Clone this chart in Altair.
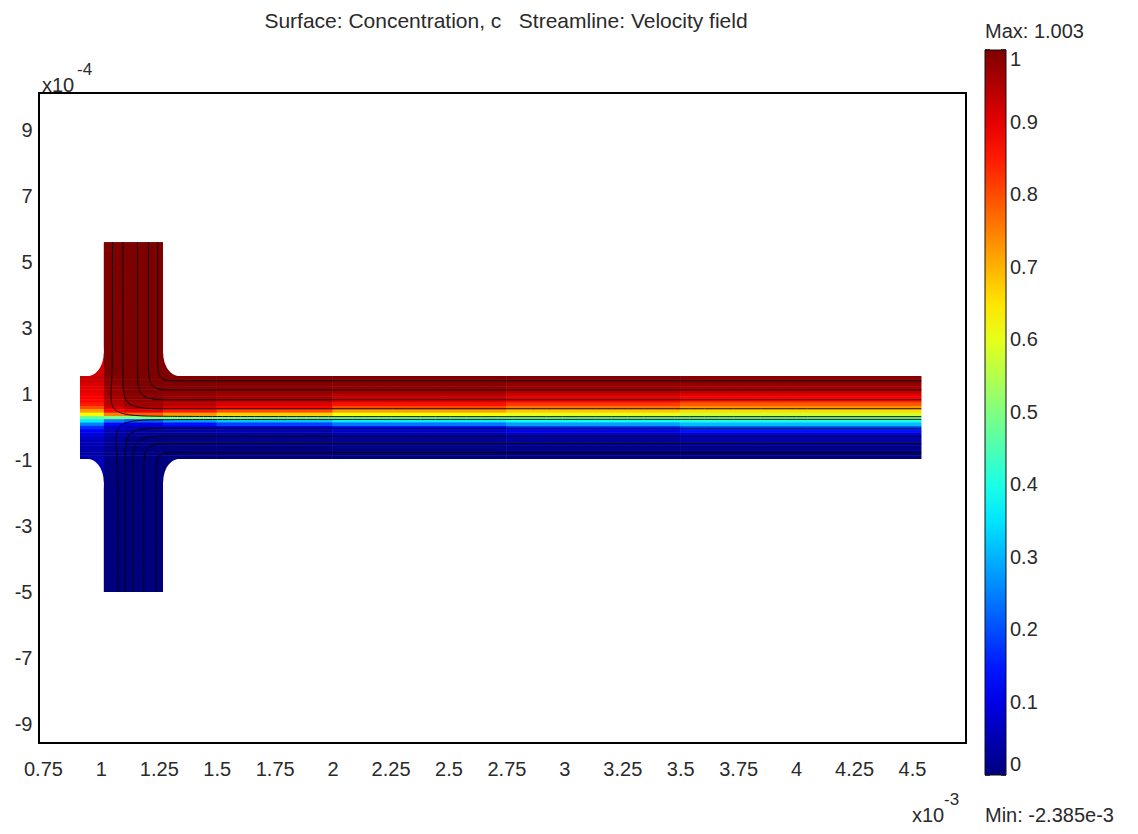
import altair as alt
import pandas as pd

# ---------------- text ----------------
title_text = "Surface: Concentration, c\u00a0\u00a0\u00a0Streamline: Velocity field"
max_text = "Max: 1.003"
min_text = "Min: -2.385e-3"
x_exp_base, x_exp_pow = "x10", "-3"
y_exp_base, y_exp_pow = "x10", "-4"

# ---------------- axes ----------------
x_ticks = [0.75, 1, 1.25, 1.5, 1.75, 2, 2.25, 2.5, 2.75, 3, 3.25, 3.5, 3.75, 4, 4.25, 4.5]
y_ticks = [9, 7, 5, 3, 1, -1, -3, -5, -7, -9]
cbar_ticks = [0, 0.1, 0.2, 0.3, 0.4, 0.5, 0.6, 0.7, 0.8, 0.9, 1]
x_domain = [0.733, 4.733]     # x in 1e-3 m
y_domain = [-9.56, 10.14]     # y in 1e-4 m

# ---------------- geometry (data units) ----------------
inlet_x = [1.013, 1.268]
top_inlet_y = [1.56, 5.62]
bottom_inlet_y = [-4.98, -0.95]
fillet_rx = 0.07
fillet_ry = 0.7

# channel cells: x segments and y strips (top -> bottom)
segment_edges = [0.91, 1.013, 1.1, 1.268, 1.5, 2.0, 2.75, 3.5, 4.54]
strip_edges = [1.56, 1.45, 1.35, 1.25, 1.15, 1.05, 0.95, 0.85, 0.75, 0.65, 0.55, 0.45,
               0.35, 0.25, 0.15, 0.05, -0.05, -0.15, -0.25, -0.35, -0.45, -0.55, -0.65,
               -0.75, -0.85, -0.95]

# concentration profiles across the channel, one per x segment (top -> bottom)
prof_stub = [.93, .92, .91, .90, .90, .89, .88, .87, .85, .80, .72, .62, .48, .36, .25, .17, .12, .09, .07, .06, .05, .05, .04, .04, .04]
prof_j1 = [.99, .99, .98, .98, .97, .97, .96, .95, .94, .92, .87, .75, .50, .25, .13, .08, .05, .04, .03, .02, .02, .01, .01, .01, .01]
prof_j2 = [1, 1, 1, 1, 1, .99, .99, .98, .97, .95, .90, .78, .50, .22, .10, .05, .03, .02, .01, 0, 0, 0, 0, 0, 0]
prof_c1 = [1, 1, 1, .99, .99, .98, .97, .96, .94, .91, .85, .72, .50, .28, .14, .07, .04, .02, .01, .01, 0, 0, 0, 0, 0]
prof_c2 = [1, 1, .99, .99, .98, .97, .96, .94, .91, .87, .80, .67, .50, .32, .19, .10, .05, .03, .02, .01, .01, 0, 0, 0, 0]
prof_c3 = [1, .99, .99, .98, .97, .95, .93, .90, .86, .80, .72, .62, .50, .36, .24, .14, .08, .05, .03, .02, .01, .01, 0, 0, 0]
prof_c4 = [1, .99, .98, .97, .95, .93, .90, .87, .82, .76, .68, .60, .50, .39, .28, .18, .11, .07, .04, .03, .02, .01, .01, 0, 0]
prof_c5 = [.99, .99, .98, .96, .94, .91, .88, .84, .79, .73, .66, .58, .50, .40, .31, .22, .14, .09, .06, .04, .02, .01, .01, 0, 0]
profiles = [prof_stub, prof_j1, prof_j2, prof_c1, prof_c2, prof_c3, prof_c4, prof_c5]

# inlet blocks and fillet corner blocks: x1, x2, y1, y2, c
block_x1 = [inlet_x[0], inlet_x[0], inlet_x[1], inlet_x[1], inlet_x[0] - fillet_rx, inlet_x[0] - fillet_rx]
block_x2 = [inlet_x[1], inlet_x[1], inlet_x[1] + fillet_rx, inlet_x[1] + fillet_rx, inlet_x[0], inlet_x[0]]
block_y1 = [top_inlet_y[0], bottom_inlet_y[0], top_inlet_y[0], bottom_inlet_y[1] - fillet_ry, top_inlet_y[0], bottom_inlet_y[1] - fillet_ry]
block_y2 = [top_inlet_y[1], bottom_inlet_y[1], top_inlet_y[0] + fillet_ry, bottom_inlet_y[1], top_inlet_y[0] + fillet_ry, bottom_inlet_y[1]]
block_c = [1.0, 0.0, 1.0, 0.0, 0.92, 0.06]

# fillet (white) ellipse centres
fillet_cx = [inlet_x[1] + fillet_rx, inlet_x[1] + fillet_rx, inlet_x[0] - fillet_rx, inlet_x[0] - fillet_rx]
fillet_cy = [top_inlet_y[0] + fillet_ry, bottom_inlet_y[1] - fillet_ry, top_inlet_y[0] + fillet_ry, bottom_inlet_y[1] - fillet_ry]

# streamlines: control points (x, y)
streamlines = {
    "t1": [(1.245, 5.62), (1.245, 3.5), (1.245, 2.1), (1.245, 1.42), (1.315, 1.42), (1.5, 1.42), (4.54, 1.42)],
    "t2": [(1.205, 5.62), (1.205, 3.5), (1.205, 1.95), (1.205, 1.14), (1.305, 1.14), (1.5, 1.14), (4.54, 1.14)],
    "t3": [(1.158, 5.62), (1.158, 3.5), (1.158, 1.65), (1.158, 0.84), (1.30, 0.84), (1.55, 0.84), (4.54, 0.84)],
    "t4": [(1.095, 5.62), (1.095, 3.5), (1.095, 1.4), (1.095, 0.57), (1.28, 0.57), (1.6, 0.57), (4.54, 0.57)],
    "t5": [(1.050, 5.62), (1.050, 3.5), (1.050, 1.2), (1.030, 0.36), (1.25, 0.34), (1.6, 0.33), (4.54, 0.33)],
    "b1": [(1.238, -4.98), (1.238, -3.0), (1.238, -1.45), (1.238, -0.76), (1.31, -0.76), (1.5, -0.76), (4.54, -0.76)],
    "b2": [(1.185, -4.98), (1.185, -3.0), (1.185, -1.3), (1.185, -0.48), (1.30, -0.48), (1.5, -0.48), (4.54, -0.48)],
    "b3": [(1.137, -4.98), (1.137, -3.0), (1.137, -1.1), (1.137, -0.26), (1.29, -0.26), (1.55, -0.26), (4.54, -0.26)],
    "b4": [(1.105, -4.98), (1.105, -3.0), (1.105, -0.9), (1.105, -0.02), (1.27, -0.02), (1.6, -0.02), (4.54, -0.02)],
    "b5": [(1.074, -4.98), (1.074, -3.0), (1.074, -0.7), (1.050, 0.22), (1.25, 0.24), (1.6, 0.25), (4.54, 0.25)],
}

# ---------------- tables ----------------
cell_rows = []
for i, prof in enumerate(profiles):
    for j, c in enumerate(prof):
        cell_rows.append({"x": segment_edges[i], "x2": segment_edges[i + 1],
                          "y": strip_edges[j], "y2": strip_edges[j + 1], "c": c})
for k in range(len(block_c)):
    cell_rows.append({"x": block_x1[k], "x2": block_x2[k], "y": block_y1[k], "y2": block_y2[k], "c": block_c[k]})
cells_df = pd.DataFrame(cell_rows)

fillet_df = pd.DataFrame({"x": fillet_cx, "y": fillet_cy})

line_rows = []
for name, pts in streamlines.items():
    for s, (px, py) in enumerate(pts):
        line_rows.append({"id": name, "seq": s, "x": px, "y": py})
lines_df = pd.DataFrame(line_rows)

cbar_df = pd.DataFrame({"level": cbar_ticks})

# ---------------- scales / axes ----------------
FONT = "Liberation Sans"
TXT = "#2a2a2a"
LBL = 20
xs = alt.Scale(domain=x_domain, nice=False, zero=False)
ys = alt.Scale(domain=y_domain, nice=False, zero=False)
x_axis = alt.Axis(values=x_ticks, labelExpr="'' + datum.value", title=None, ticks=False,
                  domain=False, grid=False, labelPadding=16, labelFontSize=LBL,
                  labelFont=FONT, labelColor=TXT, labelFlush=False, labelOverlap=False)
y_axis = alt.Axis(values=y_ticks, labelExpr="'' + datum.value", title=None, ticks=False,
                  domain=False, grid=False, labelPadding=7, labelFontSize=LBL,
                  labelFont=FONT, labelColor=TXT, labelFlush=False, labelOverlap=False)

cscale = alt.Scale(domain=[0, 0.125, 0.375, 0.625, 0.875, 1],
                   range=["#00007f", "#0000ff", "#00ffff", "#ffff00", "#ff0000", "#7f0000"],
                   interpolate="rgb")
legend = alt.Legend(
    type="gradient", orient="none", legendX=946, legendY=-43, direction="vertical",
    gradientLength=725, gradientThickness=21, title=None, values=cbar_ticks,
    labelExpr="'' + datum.value", labelFontSize=LBL, labelFont=FONT,
    labelColor=TXT, labelOffset=4, gradientStrokeColor="#111111",
    gradientStrokeWidth=1, labelOverlap=False, padding=0)

cells_base = alt.Chart(cells_df).mark_rect().encode(
    x=alt.X("x:Q", scale=xs, axis=x_axis),
    x2="x2:Q",
    y=alt.Y("y:Q", scale=ys, axis=y_axis),
    y2="y2:Q",
    color=alt.Color("c:Q", scale=cscale, legend=legend),
)
# drawn twice so that anti-aliased seams between neighbouring cells vanish
cells_over = cells_base

ellipse_path = "M -0.696 0 A 0.696 1 0 1 0 0.696 0 A 0.696 1 0 1 0 -0.696 0 Z"
fillets = alt.Chart(fillet_df).mark_point(
    shape=ellipse_path, filled=True, color="white", opacity=1, size=2116, strokeWidth=0
).encode(
    x=alt.X("x:Q", scale=xs, axis=x_axis),
    y=alt.Y("y:Q", scale=ys, axis=y_axis),
)

lines = alt.Chart(lines_df).mark_line(
    interpolate="basis", color="#000000", strokeWidth=1, opacity=0.9
).encode(
    x=alt.X("x:Q", scale=xs, axis=x_axis),
    y=alt.Y("y:Q", scale=ys, axis=y_axis),
    detail="id:N",
    order="seq:Q",
)


def label(text, x, y, size=LBL, align="left", baseline="alphabetic"):
    return alt.Chart(pd.DataFrame({"t": [text]})).mark_text(
        font=FONT, fontSize=size, color=TXT, align=align, baseline=baseline
    ).encode(text="t:N", x=alt.value(x), y=alt.value(y))


texts = [
    label(title_text, 467, -65, 21, "center"),
    label(y_exp_base, 3, -1, 20),
    label(y_exp_pow, 38, -18, 17),
    label(x_exp_base, 873, 729, 20),
    label(x_exp_pow, 905, 712, 17),
    label(max_text, 946, -55, 20),
    label(min_text, 946, 729, 20),
]

main = alt.layer(cells_base, cells_over, fillets, lines, *texts)

cbar_y = alt.Y("level:Q", scale=alt.Scale(domain=[0, 1], range=[682, -43]), axis=None)
cbar_left = alt.Chart(cbar_df).mark_rule(color="#111111", strokeWidth=1.5).encode(
    x=alt.value(946), x2=alt.value(951), y=cbar_y)
cbar_right = alt.Chart(cbar_df).mark_rule(color="#111111", strokeWidth=1.5).encode(
    x=alt.value(962), x2=alt.value(967), y=cbar_y)

chart = alt.layer(main, cbar_left, cbar_right).resolve_scale(
    y="independent"
).properties(
    width=927, height=650,
    autosize=alt.AutoSizeParams(type="none"),
    padding={"left": 31, "top": 85, "right": 162, "bottom": 88},
).configure_view(stroke="#000000", strokeWidth=2)

chart.save("out.html", embed_options={"renderer": "svg", "actions": False})
